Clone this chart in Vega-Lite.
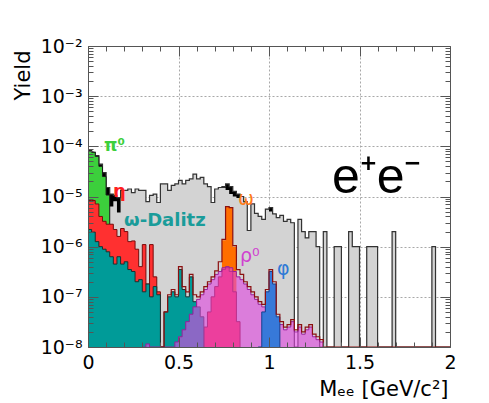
{
 "$schema": "https://vega.github.io/schema/vega-lite/v6.json",
 "width": 362,
 "height": 301,
 "autosize": {"type": "none"},
 "padding": {"left": 88, "top": 46, "right": 39, "bottom": 56},
 "background": "white",
 "config": {"font": "DejaVu Sans", "view": {"stroke": null}},
 "datasets": {
  "T": [
   {"x":0,"v":8.3e-5},{"x":0.02,"v":7.6e-5},{"x":0.04,"v":6.5e-5},{"x":0.06,"v":4.4e-5},{"x":0.08,"v":3.0e-5},
   {"x":0.1,"v":1.51e-5},{"x":0.12,"v":1.12e-5},{"x":0.14,"v":1.05e-5},{"x":0.16,"v":9.5e-6},{"x":0.18,"v":1.32e-5},
   {"x":0.2,"v":1.32e-5},{"x":0.22,"v":1.41e-5},{"x":0.24,"v":1.2e-5},{"x":0.26,"v":1.41e-5},{"x":0.28,"v":1.32e-5},
   {"x":0.3,"v":1.32e-5},{"x":0.32,"v":7.9e-6},{"x":0.34,"v":1.05e-5},{"x":0.36,"v":1.12e-5},{"x":0.38,"v":7.6e-6},
   {"x":0.4,"v":1.78e-5},{"x":0.42,"v":1.78e-5},{"x":0.44,"v":1.32e-5},{"x":0.46,"v":1.66e-5},{"x":0.48,"v":1.78e-5},
   {"x":0.5,"v":2.1e-5},{"x":0.52,"v":1.78e-5},{"x":0.54,"v":2.1e-5},{"x":0.56,"v":2.24e-5},{"x":0.58,"v":2.8e-5},
   {"x":0.6,"v":2.24e-5},{"x":0.62,"v":2.4e-5},{"x":0.64,"v":1.78e-5},{"x":0.66,"v":1.58e-5},{"x":0.68,"v":7.6e-6},
   {"x":0.7,"v":1.41e-5},{"x":0.72,"v":1.51e-5},{"x":0.74,"v":1.58e-5},{"x":0.76,"v":1.78e-5},{"x":0.78,"v":1.58e-5},
   {"x":0.8,"v":1.26e-5},{"x":0.82,"v":1.12e-5},{"x":0.84,"v":1.0e-5},{"x":0.86,"v":7.9e-6},{"x":0.88,"v":2.1e-6},
   {"x":0.9,"v":7.1e-6},{"x":0.92,"v":4.6e-6},{"x":0.94,"v":4.0e-6},{"x":0.96,"v":3.5e-6},{"x":0.98,"v":5.6e-6},
   {"x":1.0,"v":6.0e-6},{"x":1.02,"v":4.5e-6},{"x":1.04,"v":3.8e-6},{"x":1.06,"v":4.2e-6},{"x":1.08,"v":3.2e-6},
   {"x":1.1,"v":3.5e-6},{"x":1.12,"v":3.0e-6},{"x":1.14,"v":1e-8},{"x":1.16,"v":3.5e-6},{"x":1.18,"v":2e-6},
   {"x":1.2,"v":1.5e-6},{"x":1.22,"v":2e-6},{"x":1.24,"v":2e-6},{"x":1.26,"v":1e-6},{"x":1.28,"v":1e-8},
   {"x":1.3,"v":2e-6},{"x":1.32,"v":1e-8},{"x":1.34,"v":1e-8},{"x":1.36,"v":1e-6},{"x":1.38,"v":1e-6},
   {"x":1.4,"v":1e-8},{"x":1.42,"v":1e-8},{"x":1.44,"v":2e-6},{"x":1.46,"v":1e-6},{"x":1.48,"v":1e-6},
   {"x":1.5,"v":1e-8},{"x":1.52,"v":1e-8},{"x":1.54,"v":1e-6},{"x":1.56,"v":1e-6},{"x":1.58,"v":1e-6},
   {"x":1.6,"v":1e-8},{"x":1.62,"v":1e-8},{"x":1.64,"v":1e-8},{"x":1.66,"v":1e-8},{"x":1.68,"v":2e-6},
   {"x":1.7,"v":1e-8},{"x":1.72,"v":1e-8},{"x":1.74,"v":1e-8},{"x":1.76,"v":1e-8},{"x":1.78,"v":1e-8},
   {"x":1.8,"v":1e-8},{"x":1.82,"v":1e-8},{"x":1.84,"v":1e-8},{"x":1.86,"v":1e-8},{"x":1.88,"v":1e-8},
   {"x":1.9,"v":1e-6},{"x":1.92,"v":1e-8},{"x":1.94,"v":1e-8},{"x":1.96,"v":1e-8},{"x":1.98,"v":1e-8},
   {"x":2.0,"v":1e-8}
  ],
  "G": [
   {"x":0,"v":8.3e-5},{"x":0.02,"v":7.6e-5},{"x":0.04,"v":6.5e-5},{"x":0.06,"v":3.5e-5},{"x":0.08,"v":6.3e-6},
   {"x":0.1,"v":6.3e-6},{"x":0.12,"v":6.3e-6},{"x":0.14,"v":8.0e-6},{"x":0.16,"v":4.8e-6},{"x":0.18,"v":1.32e-5},
   {"x":0.2,"v":1.32e-5},{"x":0.22,"v":1.41e-5},{"x":0.24,"v":1.2e-5},{"x":0.26,"v":1.41e-5},{"x":0.28,"v":1.32e-5},
   {"x":0.3,"v":1.32e-5},{"x":0.32,"v":7.9e-6},{"x":0.34,"v":1.05e-5},{"x":0.36,"v":1.12e-5},{"x":0.38,"v":7.6e-6},
   {"x":0.4,"v":1.78e-5},{"x":0.42,"v":1.78e-5},{"x":0.44,"v":1.32e-5},{"x":0.46,"v":1.66e-5},{"x":0.48,"v":1.78e-5},
   {"x":0.5,"v":2.1e-5},{"x":0.52,"v":1.78e-5},{"x":0.54,"v":2.1e-5},{"x":0.56,"v":2.24e-5},{"x":0.58,"v":2.8e-5},
   {"x":0.6,"v":2.24e-5},{"x":0.62,"v":2.4e-5},{"x":0.64,"v":1.78e-5},{"x":0.66,"v":1.58e-5},{"x":0.68,"v":7.6e-6},
   {"x":0.7,"v":1.41e-5},{"x":0.72,"v":1.51e-5},{"x":0.74,"v":1.5e-5},{"x":0.76,"v":1.35e-5},{"x":0.78,"v":1.12e-5},
   {"x":0.8,"v":1.0e-5},{"x":0.82,"v":9.3e-6},{"x":0.84,"v":1.0e-5},{"x":0.86,"v":7.9e-6},{"x":0.88,"v":2.1e-6},
   {"x":0.9,"v":7.1e-6},{"x":0.92,"v":4.6e-6},{"x":0.94,"v":4.0e-6},{"x":0.96,"v":3.5e-6},{"x":0.98,"v":5.6e-6},
   {"x":1.0,"v":5.0e-6},{"x":1.02,"v":4.5e-6},{"x":1.04,"v":3.8e-6},{"x":1.06,"v":4.2e-6},{"x":1.08,"v":3.2e-6},
   {"x":1.1,"v":3.5e-6},{"x":1.12,"v":3.0e-6},{"x":1.14,"v":1e-8},{"x":1.16,"v":3.5e-6},{"x":1.18,"v":2e-6},
   {"x":1.2,"v":1.5e-6},{"x":1.22,"v":2e-6},{"x":1.24,"v":2e-6},{"x":1.26,"v":1e-6},{"x":1.28,"v":1e-8},
   {"x":1.3,"v":2e-6},{"x":1.32,"v":1e-8},{"x":1.34,"v":1e-8},{"x":1.36,"v":1e-6},{"x":1.38,"v":1e-6},
   {"x":1.4,"v":1e-8},{"x":1.42,"v":1e-8},{"x":1.44,"v":2e-6},{"x":1.46,"v":1e-6},{"x":1.48,"v":1e-6},
   {"x":1.5,"v":1e-8},{"x":1.52,"v":1e-8},{"x":1.54,"v":1e-6},{"x":1.56,"v":1e-6},{"x":1.58,"v":1e-6},
   {"x":1.6,"v":1e-8},{"x":1.62,"v":1e-8},{"x":1.64,"v":1e-8},{"x":1.66,"v":1e-8},{"x":1.68,"v":2e-6},
   {"x":1.7,"v":1e-8},{"x":1.72,"v":1e-8},{"x":1.74,"v":1e-8},{"x":1.76,"v":1e-8},{"x":1.78,"v":1e-8},
   {"x":1.8,"v":1e-8},{"x":1.82,"v":1e-8},{"x":1.84,"v":1e-8},{"x":1.86,"v":1e-8},{"x":1.88,"v":1e-8},
   {"x":1.9,"v":1e-6},{"x":1.92,"v":1e-8},{"x":1.94,"v":1e-8},{"x":1.96,"v":1e-8},{"x":1.98,"v":1e-8},
   {"x":2.0,"v":1e-8}
  ],
  "P": [
   {"x":0,"v":8.3e-5},{"x":0.02,"v":7.6e-5},{"x":0.04,"v":6.3e-5},{"x":0.06,"v":4.0e-5},{"x":0.08,"v":2.5e-5},
   {"x":0.1,"v":1.07e-5},{"x":0.12,"v":1e-8}
  ],
  "O": [
   {"x":0.72,"v":1e-8},{"x":0.74,"v":1.35e-6},{"x":0.76,"v":6.3e-6},{"x":0.78,"v":6.0e-6},{"x":0.8,"v":1.0e-6},
   {"x":0.82,"v":1e-8}
  ],
  "R": [
   {"x":0,"v":8.3e-6},{"x":0.02,"v":8.3e-6},{"x":0.04,"v":7.1e-6},{"x":0.06,"v":4.0e-6},{"x":0.08,"v":3.2e-6},
   {"x":0.1,"v":2.8e-6},{"x":0.12,"v":2.8e-6},{"x":0.14,"v":2.2e-6},{"x":0.16,"v":1.6e-6},{"x":0.18,"v":2.3e-6},
   {"x":0.2,"v":2.0e-6},{"x":0.22,"v":1.26e-6},{"x":0.24,"v":1.3e-6},{"x":0.26,"v":8.9e-7},{"x":0.28,"v":4e-7},
   {"x":0.3,"v":1.1e-6},{"x":0.32,"v":1.8e-7},{"x":0.34,"v":1.1e-6},{"x":0.36,"v":2.5e-7},{"x":0.38,"v":1.26e-7},
   {"x":0.4,"v":1e-8},{"x":0.42,"v":1e-8},{"x":0.44,"v":1e-8},{"x":0.46,"v":1e-8},{"x":0.48,"v":1e-8},
   {"x":0.5,"v":1e-8},{"x":0.52,"v":1e-8},{"x":0.54,"v":1e-8},{"x":0.56,"v":1e-8},{"x":0.58,"v":1e-8},
   {"x":0.6,"v":1e-8},{"x":0.62,"v":1e-8},{"x":0.64,"v":2.5e-8},{"x":0.66,"v":5e-8},{"x":0.68,"v":1e-7},
   {"x":0.7,"v":1.6e-7},{"x":0.72,"v":2.5e-7},{"x":0.74,"v":3.5e-7},{"x":0.76,"v":3.8e-7},{"x":0.78,"v":3.2e-7},
   {"x":0.8,"v":1.26e-7},{"x":0.82,"v":3.2e-8},{"x":0.84,"v":1e-8}
  ],
  "D": [
   {"x":0,"v":2.2e-6},{"x":0.02,"v":1.95e-6},{"x":0.04,"v":1.26e-6},{"x":0.06,"v":1e-6},{"x":0.08,"v":8.9e-7},
   {"x":0.1,"v":7.9e-7},{"x":0.12,"v":6.3e-7},{"x":0.14,"v":4.5e-7},{"x":0.16,"v":6.3e-7},{"x":0.18,"v":4.5e-7},
   {"x":0.2,"v":5e-7},{"x":0.22,"v":3.5e-7},{"x":0.24,"v":3.2e-7},{"x":0.26,"v":2e-7},{"x":0.28,"v":2.2e-7},
   {"x":0.3,"v":1.26e-7},{"x":0.32,"v":1.8e-7},{"x":0.34,"v":1e-7},{"x":0.36,"v":1.6e-7},{"x":0.38,"v":1.1e-7},
   {"x":0.4,"v":1e-8},{"x":0.42,"v":5e-8},{"x":0.44,"v":1e-7},{"x":0.46,"v":1.26e-7},{"x":0.48,"v":1e-7},
   {"x":0.5,"v":3.5e-7},{"x":0.52,"v":1.4e-7},{"x":0.54,"v":1e-7},{"x":0.56,"v":2.5e-7},{"x":0.58,"v":8e-8},
   {"x":0.6,"v":6.3e-8},{"x":0.62,"v":4e-8},{"x":0.64,"v":1e-8}
  ],
  "RHO": [
   {"x":0.3,"v":1e-8},{"x":0.32,"v":1.15e-8},{"x":0.34,"v":1e-8},{"x":0.36,"v":1e-8},{"x":0.38,"v":1e-8},
   {"x":0.4,"v":1e-8},{"x":0.42,"v":1e-8},{"x":0.44,"v":1e-8},{"x":0.46,"v":1e-8},{"x":0.48,"v":1.26e-8},
   {"x":0.5,"v":1.6e-8},{"x":0.52,"v":2.2e-8},{"x":0.54,"v":3.2e-8},{"x":0.56,"v":4.5e-8},{"x":0.58,"v":6.3e-8},
   {"x":0.6,"v":8.9e-8},{"x":0.62,"v":1.1e-7},{"x":0.64,"v":1.4e-7},{"x":0.66,"v":1.8e-7},{"x":0.68,"v":2.2e-7},
   {"x":0.7,"v":2.8e-7},{"x":0.72,"v":3.2e-7},{"x":0.74,"v":3.8e-7},{"x":0.76,"v":4e-7},{"x":0.78,"v":3.8e-7},
   {"x":0.8,"v":3.2e-7},{"x":0.82,"v":2.5e-7},{"x":0.84,"v":2.2e-7},{"x":0.86,"v":1.8e-7},{"x":0.88,"v":1.4e-7},
   {"x":0.9,"v":1.1e-7},{"x":0.92,"v":8.9e-8},{"x":0.94,"v":7.1e-8},{"x":0.96,"v":6.3e-8},{"x":0.98,"v":5e-8},
   {"x":1.0,"v":4e-8},{"x":1.02,"v":3.5e-8},{"x":1.04,"v":2.8e-8},{"x":1.06,"v":2.8e-8},{"x":1.08,"v":2.2e-8},
   {"x":1.1,"v":2.5e-8},{"x":1.12,"v":3.2e-8},{"x":1.14,"v":2e-8},{"x":1.16,"v":2.5e-8},{"x":1.18,"v":1.8e-8},
   {"x":1.2,"v":2.2e-8},{"x":1.22,"v":2.5e-8},{"x":1.24,"v":1.6e-8},{"x":1.26,"v":1.4e-8},{"x":1.28,"v":1.26e-8},
   {"x":1.3,"v":1e-8}
  ],
  "PHI": [
   {"x":0.94,"v":1e-8},{"x":0.96,"v":5e-8},{"x":0.98,"v":1.26e-7},{"x":1.0,"v":3.2e-7},{"x":1.02,"v":1.8e-7},
   {"x":1.04,"v":4e-8},{"x":1.06,"v":1e-8}
  ],
  "L": [
   {"x":0.4,"v":1e-8},{"x":0.42,"v":5e-8},{"x":0.44,"v":1.1e-7},{"x":0.46,"v":1.4e-7},{"x":0.48,"v":1.1e-7},
   {"x":0.5,"v":4e-7},{"x":0.52,"v":1.6e-7},{"x":0.54,"v":1.26e-7},{"x":0.56,"v":2.8e-7},{"x":0.58,"v":1.1e-7},
   {"x":0.6,"v":1e-7},{"x":0.62,"v":1.26e-7},{"x":0.64,"v":1.6e-7},{"x":0.66,"v":2e-7},{"x":0.68,"v":2.5e-7},
   {"x":0.7,"v":3.3e-7},{"x":0.72,"v":5e-7},{"x":0.74,"v":1.4e-6},{"x":0.76,"v":6.3e-6},{"x":0.78,"v":6.0e-6},
   {"x":0.8,"v":1.05e-6},{"x":0.82,"v":3.5e-7},{"x":0.84,"v":2.8e-7},{"x":0.86,"v":2e-7},{"x":0.88,"v":1.6e-7},
   {"x":0.9,"v":1.26e-7},{"x":0.92,"v":1e-7},{"x":0.94,"v":8e-8},{"x":0.96,"v":7.1e-8},{"x":0.98,"v":1.4e-7},
   {"x":1.0,"v":3.5e-7},{"x":1.02,"v":2e-7},{"x":1.04,"v":4.5e-8},{"x":1.06,"v":3.2e-8},{"x":1.08,"v":2.5e-8},
   {"x":1.1,"v":2.8e-8},{"x":1.12,"v":3.5e-8},{"x":1.14,"v":2.2e-8},{"x":1.16,"v":2.8e-8},{"x":1.18,"v":2e-8},
   {"x":1.2,"v":2.5e-8},{"x":1.22,"v":2.8e-8},{"x":1.24,"v":1.8e-8},{"x":1.26,"v":1.6e-8},{"x":1.28,"v":1.4e-8},
   {"x":1.3,"v":1e-8},{"x":2.0,"v":1e-8}
  ]
 },
 "resolve": {"axis": {"x": "independent", "y": "independent"}},
 "layer": [
  {
   "data": {"name": "T"},
   "mark": {"type": "area", "interpolate": "step-after", "color": "#000000", "clip": true},
   "encoding": {
    "x": {"field": "x", "type": "quantitative", "scale": {"domain": [0, 2], "nice": false, "zero": false},
     "axis": {"orient": "bottom", "zindex": 1,
      "values": [0,0.1,0.2,0.3,0.4,0.5,0.6,0.7,0.8,0.9,1,1.1,1.2,1.3,1.4,1.5,1.6,1.7,1.8,1.9,2],
      "labelExpr": "round(datum.value*10) % 5 == 0 ? format(datum.value, '~g') : ''",
      "tickSize": {"condition": {"test": "round(datum.value*10) % 5 == 0", "value": -10}, "value": -5},
      "tickColor": "#555555", "domainColor": "#555555", "grid": false,
      "labelFont": "DejaVu Sans", "labelFontSize": 19, "labelColor": "#000000", "labelPadding": 16, "labelFlush": false, "labelOverlap": false,
      "title": "Mₑₑ [GeV/c²]", "titleFont": "DejaVu Sans", "titleFontSize": 21, "titleFontWeight": "normal", "titleColor": "#000000",
      "titleAlign": "right", "titleBaseline": "alphabetic", "titleX": 360, "titleY": 48}},
    "y": {"field": "v", "type": "quantitative", "scale": {"type": "log", "domain": [1e-8, 0.01], "nice": false},
     "axis": {"orient": "left", "zindex": 1,
      "values": [1e-8,2e-8,3e-8,4e-8,5e-8,6e-8,7e-8,8e-8,9e-8,1e-7,2e-7,3e-7,4e-7,5e-7,6e-7,7e-7,8e-7,9e-7,1e-6,2e-6,3e-6,4e-6,5e-6,6e-6,7e-6,8e-6,9e-6,1e-5,2e-5,3e-5,4e-5,5e-5,6e-5,7e-5,8e-5,9e-5,1e-4,2e-4,3e-4,4e-4,5e-4,6e-4,7e-4,8e-4,9e-4,1e-3,2e-3,3e-3,4e-3,5e-3,6e-3,7e-3,8e-3,9e-3,1e-2],
      "labelExpr": "abs(log(datum.value)/LN10 - round(log(datum.value)/LN10)) < 0.01 ? '10' + ['⁰','⁻¹','⁻²','⁻³','⁻⁴','⁻⁵','⁻⁶','⁻⁷','⁻⁸'][-round(log(datum.value)/LN10)] : ''",
      "tickSize": {"condition": {"test": "abs(log(datum.value)/LN10 - round(log(datum.value)/LN10)) < 0.01", "value": -10}, "value": -5},
      "tickColor": "#555555", "domainColor": "#555555", "grid": false,
      "labelFont": "DejaVu Sans", "labelFontSize": 19, "labelColor": "#000000", "labelPadding": 16, "labelFlush": false, "labelOverlap": false,
      "title": "Yield", "titleFont": "DejaVu Sans", "titleFontSize": 21, "titleFontWeight": "normal", "titleColor": "#000000",
      "titleAngle": 270, "titleAlign": "right", "titleBaseline": "middle", "titleX": -65, "titleY": 4}},
    "y2": {"datum": 1e-8}
   }
  },
  {
   "data": {"name": "G"},
   "mark": {"type": "area", "interpolate": "step-after", "color": "#d3d3d3", "clip": true},
   "encoding": {
    "x": {"field": "x", "type": "quantitative",
     "axis": {"orient": "top", "zindex": 0, "labels": false, "title": null,
      "values": [0,0.1,0.2,0.3,0.4,0.5,0.6,0.7,0.8,0.9,1,1.1,1.2,1.3,1.4,1.5,1.6,1.7,1.8,1.9,2],
      "tickSize": {"condition": {"test": "round(datum.value*10) % 5 == 0", "value": -10}, "value": -5},
      "tickColor": "#555555", "domainColor": "#555555",
      "grid": true, "gridColor": "#a8a8a8", "gridDash": [2, 2],
      "gridOpacity": {"condition": {"test": "round(datum.value*10) % 5 == 0 && datum.value > 0.01 && datum.value < 1.99", "value": 1}, "value": 0}}},
    "y": {"field": "v", "type": "quantitative",
     "axis": {"orient": "right", "zindex": 0, "labels": false, "title": null,
      "values": [1e-8,2e-8,3e-8,4e-8,5e-8,6e-8,7e-8,8e-8,9e-8,1e-7,2e-7,3e-7,4e-7,5e-7,6e-7,7e-7,8e-7,9e-7,1e-6,2e-6,3e-6,4e-6,5e-6,6e-6,7e-6,8e-6,9e-6,1e-5,2e-5,3e-5,4e-5,5e-5,6e-5,7e-5,8e-5,9e-5,1e-4,2e-4,3e-4,4e-4,5e-4,6e-4,7e-4,8e-4,9e-4,1e-3,2e-3,3e-3,4e-3,5e-3,6e-3,7e-3,8e-3,9e-3,1e-2],
      "tickSize": {"condition": {"test": "abs(log(datum.value)/LN10 - round(log(datum.value)/LN10)) < 0.01", "value": -10}, "value": -5},
      "tickColor": "#555555", "domainColor": "#555555",
      "grid": true, "gridColor": "#a8a8a8", "gridDash": [2, 2],
      "gridOpacity": {"condition": {"test": "abs(log(datum.value)/LN10 - round(log(datum.value)/LN10)) < 0.01 && datum.value > 1.5e-8 && datum.value < 0.009", "value": 1}, "value": 0}}},
    "y2": {"datum": 1e-8}
   }
  },
  {
   "data": {"name": "T"},
   "mark": {"type": "line", "interpolate": "step-after", "color": "#333333", "strokeWidth": 1.2, "clip": true},
   "encoding": {"x": {"field": "x", "type": "quantitative", "axis": null}, "y": {"field": "v", "type": "quantitative", "axis": null}}
  },
  {
   "data": {"name": "P"},
   "mark": {"type": "area", "interpolate": "step-after", "color": "#3ccf3c", "clip": true},
   "encoding": {"x": {"field": "x", "type": "quantitative", "axis": null}, "y": {"field": "v", "type": "quantitative", "axis": null}, "y2": {"datum": 1e-8}}
  },
  {
   "data": {"name": "P"},
   "mark": {"type": "line", "interpolate": "step-after", "color": "#1a1a1a", "strokeWidth": 1, "clip": true},
   "encoding": {"x": {"field": "x", "type": "quantitative", "axis": null}, "y": {"field": "v", "type": "quantitative", "axis": null}}
  },
  {
   "data": {"name": "O"},
   "mark": {"type": "area", "interpolate": "step-after", "color": "#ff6e00", "clip": true},
   "encoding": {"x": {"field": "x", "type": "quantitative", "axis": null}, "y": {"field": "v", "type": "quantitative", "axis": null}, "y2": {"datum": 1e-8}}
  },
  {
   "data": {"name": "R"},
   "mark": {"type": "area", "interpolate": "step-after", "color": "#ff3030", "clip": true},
   "encoding": {"x": {"field": "x", "type": "quantitative", "axis": null}, "y": {"field": "v", "type": "quantitative", "axis": null}, "y2": {"datum": 1e-8}}
  },
  {
   "data": {"name": "R"},
   "mark": {"type": "line", "interpolate": "step-after", "color": "#7a0a0a", "strokeWidth": 1, "clip": true},
   "encoding": {"x": {"field": "x", "type": "quantitative", "axis": null}, "y": {"field": "v", "type": "quantitative", "axis": null}}
  },
  {
   "data": {"name": "D"},
   "mark": {"type": "area", "interpolate": "step-after", "color": "#009b98", "clip": true},
   "encoding": {"x": {"field": "x", "type": "quantitative", "axis": null}, "y": {"field": "v", "type": "quantitative", "axis": null}, "y2": {"datum": 1e-8}}
  },
  {
   "data": {"name": "D"},
   "mark": {"type": "line", "interpolate": "step-after", "color": "#1c3030", "strokeWidth": 1, "clip": true},
   "encoding": {"x": {"field": "x", "type": "quantitative", "axis": null}, "y": {"field": "v", "type": "quantitative", "axis": null}}
  },
  {
   "data": {"name": "RHO"},
   "mark": {"type": "area", "interpolate": "step-after", "color": "#e048e0", "opacity": 0.62, "clip": true},
   "encoding": {"x": {"field": "x", "type": "quantitative", "axis": null}, "y": {"field": "v", "type": "quantitative", "axis": null}, "y2": {"datum": 1e-8}}
  },
  {
   "data": {"name": "RHO"},
   "mark": {"type": "line", "interpolate": "step-after", "color": "#9a1f9a", "strokeWidth": 1, "clip": true},
   "encoding": {"x": {"field": "x", "type": "quantitative", "axis": null}, "y": {"field": "v", "type": "quantitative", "axis": null}}
  },
  {
   "data": {"name": "PHI"},
   "mark": {"type": "area", "interpolate": "step-after", "color": "#3779d9", "clip": true},
   "encoding": {"x": {"field": "x", "type": "quantitative", "axis": null}, "y": {"field": "v", "type": "quantitative", "axis": null}, "y2": {"datum": 1e-8}}
  },
  {
   "data": {"name": "PHI"},
   "mark": {"type": "line", "interpolate": "step-after", "color": "#17408f", "strokeWidth": 1, "clip": true},
   "encoding": {"x": {"field": "x", "type": "quantitative", "axis": null}, "y": {"field": "v", "type": "quantitative", "axis": null}}
  },
  {
   "data": {"name": "L"},
   "mark": {"type": "line", "interpolate": "step-after", "color": "#8b1010", "strokeWidth": 1.2, "clip": true},
   "encoding": {"x": {"field": "x", "type": "quantitative", "axis": null}, "y": {"field": "v", "type": "quantitative", "axis": null}}
  },
  {
   "data": {"values": [{}]},
   "mark": {"type": "text", "text": "π⁰", "font": "DejaVu Sans", "fontSize": 17, "fontWeight": "bold", "color": "#3ccf3c", "align": "left", "baseline": "alphabetic"},
   "encoding": {"x": {"datum": 0.088, "type": "quantitative", "axis": null}, "y": {"datum": 8.1e-5, "type": "quantitative", "axis": null}}
  },
  {
   "data": {"values": [{}]},
   "mark": {"type": "text", "text": "η", "font": "DejaVu Sans", "fontSize": 18, "fontWeight": "bold", "color": "#ff1f1f", "align": "left", "baseline": "alphabetic"},
   "encoding": {"x": {"datum": 0.138, "type": "quantitative", "axis": null}, "y": {"datum": 9.8e-6, "type": "quantitative", "axis": null}}
  },
  {
   "data": {"values": [{}]},
   "mark": {"type": "text", "text": "ω-Dalitz", "font": "DejaVu Sans", "fontSize": 18, "fontWeight": "bold", "color": "#1a9c9a", "align": "left", "baseline": "alphabetic"},
   "encoding": {"x": {"datum": 0.199, "type": "quantitative", "axis": null}, "y": {"datum": 2.57e-6, "type": "quantitative", "axis": null}}
  },
  {
   "data": {"values": [{}]},
   "mark": {"type": "text", "text": "ω", "font": "DejaVu Sans", "fontSize": 19, "color": "#ff7a1a", "align": "left", "baseline": "alphabetic"},
   "encoding": {"x": {"datum": 0.829, "type": "quantitative", "axis": null}, "y": {"datum": 6.8e-6, "type": "quantitative", "axis": null}}
  },
  {
   "data": {"values": [{}]},
   "mark": {"type": "text", "text": "ρ⁰", "font": "DejaVu Sans", "fontSize": 19, "color": "#d040d0", "align": "left", "baseline": "alphabetic"},
   "encoding": {"x": {"datum": 0.84, "type": "quantitative", "axis": null}, "y": {"datum": 4.9e-7, "type": "quantitative", "axis": null}}
  },
  {
   "data": {"values": [{}]},
   "mark": {"type": "text", "text": "φ", "font": "DejaVu Sans", "fontSize": 19, "color": "#2f7ad6", "align": "left", "baseline": "alphabetic"},
   "encoding": {"x": {"datum": 1.044, "type": "quantitative", "axis": null}, "y": {"datum": 2.7e-7, "type": "quantitative", "axis": null}}
  },
  {
   "data": {"values": [{}]},
   "mark": {"type": "text", "text": "e⁺e⁻", "font": "Liberation Sans", "fontSize": 50, "color": "#000000", "align": "center", "baseline": "alphabetic"},
   "encoding": {"x": {"datum": 1.595, "type": "quantitative", "axis": null}, "y": {"datum": 1.17e-5, "type": "quantitative", "axis": null}}
  }
 ]
}
